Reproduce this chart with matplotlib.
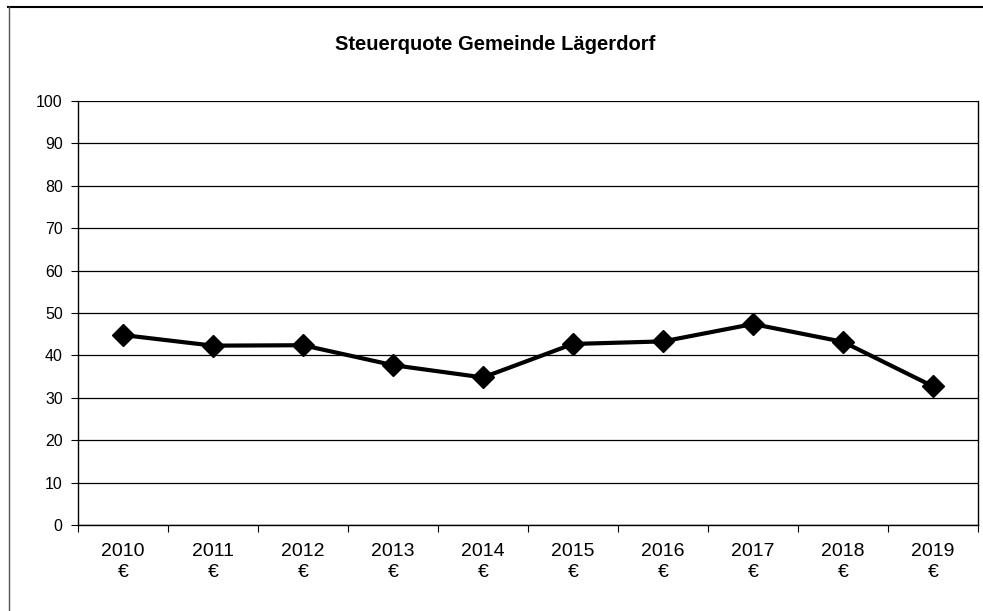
import matplotlib
matplotlib.use('Agg')
import matplotlib.pyplot as plt
from matplotlib.lines import Line2D

years = ['2010', '2011', '2012', '2013', '2014', '2015', '2016', '2017', '2018', '2019']
quote = [44.8, 42.3, 42.4, 37.7, 34.8, 42.7, 43.3, 47.4, 43.2, 32.7]
yticks = list(range(0, 101, 10))

plt.rcParams['font.family'] = ['Liberation Sans', 'DejaVu Sans']

fig = plt.figure(figsize=(9.83, 6.11), dpi=100)
ax = fig.add_axes([78/983, 86/611, 900/983, 424/611])

x = list(range(len(years)))
ax.plot(x, quote, color='black', lw=3.0, marker='D', markersize=11, zorder=3)

ax.set_xlim(-0.5, len(years) - 0.5)
ax.set_ylim(0, 100)
ax.set_yticks(yticks)
ax.tick_params(axis='y', labelsize=11.5, length=5, width=0.8, direction='out', pad=6)
ax.yaxis.grid(True, color='black', lw=0.9)
ax.set_axisbelow(True)

# category labels centered, tick marks between categories
ax.set_xticks([i - 0.5 for i in range(len(years) + 1)])
ax.set_xticklabels([])
ax.tick_params(axis='x', length=5, width=0.8, direction='out')
ax.set_xticks(x, minor=True)
ax.set_xticklabels([y + '\n€' for y in years], minor=True, fontsize=14, linespacing=1.3)
ax.tick_params(axis='x', which='minor', length=0, pad=13)

for s in ['left', 'bottom', 'right']:
    ax.spines[s].set_color('black')
    ax.spines[s].set_linewidth(1.0)
ax.spines['top'].set_visible(False)

fig.text(495/983, 1 - 45/611, 'Steuerquote Gemeinde Lägerdorf', ha='center', va='center',
         fontsize=14.5, fontweight='bold')

# scanned page frame
fig.add_artist(Line2D([8/983, 1], [1 - 7/611, 1 - 7/611], transform=fig.transFigure, color='black', lw=1.5))
fig.add_artist(Line2D([9/983, 9/983], [0, 1 - 7/611], transform=fig.transFigure, color='#555555', lw=1.0))

fig.savefig('out.png', dpi=100)
